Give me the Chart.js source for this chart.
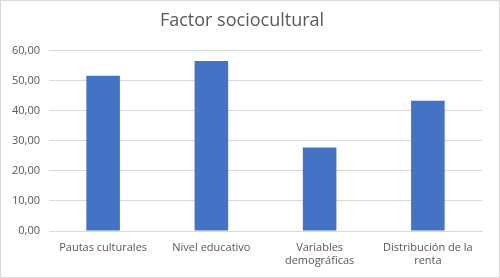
<!DOCTYPE html>
<html>
<head>
<meta charset="utf-8">
<script src="https://cdn.jsdelivr.net/npm/chart.js@4"></script>
<style>
  html, body { margin: 0; padding: 0; background: #fff; }
  #wrap { position: relative; width: 500px; height: 278px; box-sizing: border-box; border: 1px solid #d9d9d9; }
</style>
</head>
<body>
<div id="wrap"><canvas id="chart"></canvas></div>
<script>
// Data
const categories = [
    'Pautas culturales',
    'Nivel educativo',
    ['Variables', 'demográficas'],
    ['Distribución de la', 'renta']
];
const values = [51.6, 56.5, 27.8, 43.3];
const yTicks = [0, 10, 20, 30, 40, 50, 60];

Chart.defaults.font.family = "'Open Sans', 'Liberation Sans', sans-serif";
Chart.defaults.color = '#595959';

new Chart(document.getElementById('chart'), {
    type: 'bar',
    data: {
        labels: categories,
        datasets: [{
            label: 'Factor sociocultural',
            data: values,
            backgroundColor: '#4472c4',
            categoryPercentage: 1,
            barPercentage: 0.31
        }]
    },
    options: {
        responsive: true,
        maintainAspectRatio: false,
        animation: false,
        layout: { padding: { left: 1, right: 17, top: 9, bottom: 0 } },
        plugins: {
            legend: { display: false },
            tooltip: { enabled: false },
            title: {
                display: true,
                text: 'Factor sociocultural',
                color: '#595959',
                font: { size: 18, weight: 'normal' },
                padding: { top: 0, bottom: 19 }
            }
        },
        scales: {
            x: {
                afterFit: axis => { axis.height = 46; },
                grid: { display: false, drawTicks: false },
                border: { display: true, color: '#d9d9d9' },
                ticks: { font: { size: 11 }, color: '#595959', padding: 10, maxRotation: 0, autoSkip: false }
            },
            y: {
                min: 0,
                max: 60,
                afterBuildTicks: axis => { axis.ticks = yTicks.map(v => ({ value: v })); },
                afterFit: axis => { axis.width = 47; },
                grid: { color: '#d9d9d9', drawTicks: false },
                border: { display: false },
                ticks: {
                    font: { size: 11 },
                    color: '#595959',
                    padding: 9,
                    callback: v => v.toFixed(2).replace('.', ',')
                }
            }
        }
    }
});
</script>
</body>
</html>
